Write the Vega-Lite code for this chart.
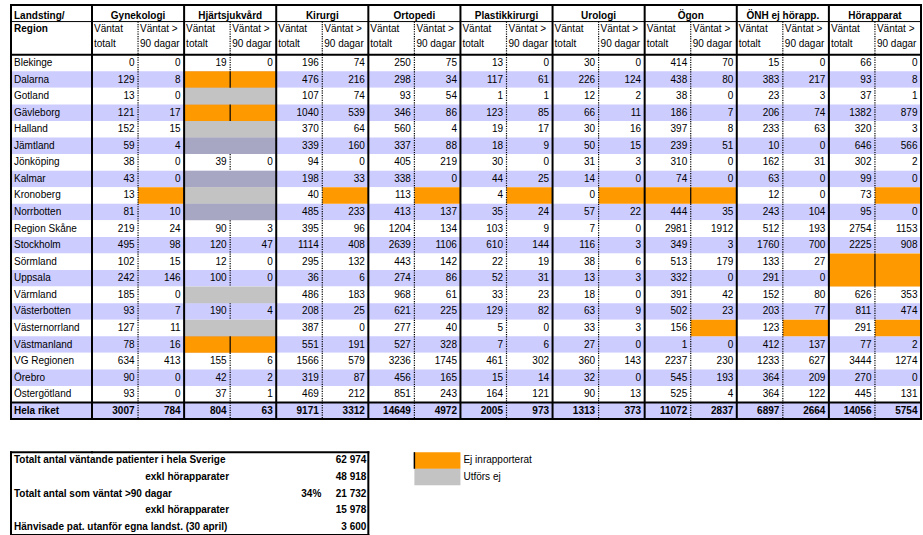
{
  "$schema": "https://vega.github.io/schema/vega-lite/v6.json",
  "background": "white",
  "padding": {"left": 9, "top": 3, "right": 2, "bottom": 0},
  "bounds": "flush",
  "spacing": 0,
  "config": {
    "view": {"stroke": null},
    "text": {"font": "Liberation Sans", "fontSize": 10, "color": "#000000"},
    "locale": {"number": {"decimal": ",", "thousands": " ", "grouping": [3], "currency": ["", " kr"]}}
  },
  "datasets": {
    "vantande": [
      {"region":"Blekinge","specialitet":"Gynekologi","totalt":0,"over90":0},{"region":"Blekinge","specialitet":"Hjärtsjukvård","totalt":19,"over90":0},{"region":"Blekinge","specialitet":"Kirurgi","totalt":196,"over90":74},{"region":"Blekinge","specialitet":"Ortopedi","totalt":250,"over90":75},{"region":"Blekinge","specialitet":"Plastikkirurgi","totalt":13,"over90":0},{"region":"Blekinge","specialitet":"Urologi","totalt":30,"over90":0},{"region":"Blekinge","specialitet":"Ögon","totalt":414,"over90":70},{"region":"Blekinge","specialitet":"ÖNH ej hörapp.","totalt":15,"over90":0},{"region":"Blekinge","specialitet":"Hörapparat","totalt":66,"over90":0},
      {"region":"Dalarna","specialitet":"Gynekologi","totalt":129,"over90":8},{"region":"Dalarna","specialitet":"Hjärtsjukvård","totalt":null,"over90":null},{"region":"Dalarna","specialitet":"Kirurgi","totalt":476,"over90":216},{"region":"Dalarna","specialitet":"Ortopedi","totalt":298,"over90":34},{"region":"Dalarna","specialitet":"Plastikkirurgi","totalt":117,"over90":61},{"region":"Dalarna","specialitet":"Urologi","totalt":226,"over90":124},{"region":"Dalarna","specialitet":"Ögon","totalt":438,"over90":80},{"region":"Dalarna","specialitet":"ÖNH ej hörapp.","totalt":383,"over90":217},{"region":"Dalarna","specialitet":"Hörapparat","totalt":93,"over90":8},
      {"region":"Gotland","specialitet":"Gynekologi","totalt":13,"over90":0},{"region":"Gotland","specialitet":"Hjärtsjukvård","totalt":null,"over90":null},{"region":"Gotland","specialitet":"Kirurgi","totalt":107,"over90":74},{"region":"Gotland","specialitet":"Ortopedi","totalt":93,"over90":54},{"region":"Gotland","specialitet":"Plastikkirurgi","totalt":1,"over90":1},{"region":"Gotland","specialitet":"Urologi","totalt":12,"over90":2},{"region":"Gotland","specialitet":"Ögon","totalt":38,"over90":0},{"region":"Gotland","specialitet":"ÖNH ej hörapp.","totalt":23,"over90":3},{"region":"Gotland","specialitet":"Hörapparat","totalt":37,"over90":1},
      {"region":"Gävleborg","specialitet":"Gynekologi","totalt":121,"over90":17},{"region":"Gävleborg","specialitet":"Hjärtsjukvård","totalt":null,"over90":null},{"region":"Gävleborg","specialitet":"Kirurgi","totalt":1040,"over90":539},{"region":"Gävleborg","specialitet":"Ortopedi","totalt":346,"over90":86},{"region":"Gävleborg","specialitet":"Plastikkirurgi","totalt":123,"over90":85},{"region":"Gävleborg","specialitet":"Urologi","totalt":66,"over90":11},{"region":"Gävleborg","specialitet":"Ögon","totalt":186,"over90":7},{"region":"Gävleborg","specialitet":"ÖNH ej hörapp.","totalt":206,"over90":74},{"region":"Gävleborg","specialitet":"Hörapparat","totalt":1382,"over90":879},
      {"region":"Halland","specialitet":"Gynekologi","totalt":152,"over90":15},{"region":"Halland","specialitet":"Hjärtsjukvård","totalt":null,"over90":null},{"region":"Halland","specialitet":"Kirurgi","totalt":370,"over90":64},{"region":"Halland","specialitet":"Ortopedi","totalt":560,"over90":4},{"region":"Halland","specialitet":"Plastikkirurgi","totalt":19,"over90":17},{"region":"Halland","specialitet":"Urologi","totalt":30,"over90":16},{"region":"Halland","specialitet":"Ögon","totalt":397,"over90":8},{"region":"Halland","specialitet":"ÖNH ej hörapp.","totalt":233,"over90":63},{"region":"Halland","specialitet":"Hörapparat","totalt":320,"over90":3},
      {"region":"Jämtland","specialitet":"Gynekologi","totalt":59,"over90":4},{"region":"Jämtland","specialitet":"Hjärtsjukvård","totalt":null,"over90":null},{"region":"Jämtland","specialitet":"Kirurgi","totalt":339,"over90":160},{"region":"Jämtland","specialitet":"Ortopedi","totalt":337,"over90":88},{"region":"Jämtland","specialitet":"Plastikkirurgi","totalt":18,"over90":9},{"region":"Jämtland","specialitet":"Urologi","totalt":50,"over90":15},{"region":"Jämtland","specialitet":"Ögon","totalt":239,"over90":51},{"region":"Jämtland","specialitet":"ÖNH ej hörapp.","totalt":10,"over90":0},{"region":"Jämtland","specialitet":"Hörapparat","totalt":646,"over90":566},
      {"region":"Jönköping","specialitet":"Gynekologi","totalt":38,"over90":0},{"region":"Jönköping","specialitet":"Hjärtsjukvård","totalt":39,"over90":0},{"region":"Jönköping","specialitet":"Kirurgi","totalt":94,"over90":0},{"region":"Jönköping","specialitet":"Ortopedi","totalt":405,"over90":219},{"region":"Jönköping","specialitet":"Plastikkirurgi","totalt":30,"over90":0},{"region":"Jönköping","specialitet":"Urologi","totalt":31,"over90":3},{"region":"Jönköping","specialitet":"Ögon","totalt":310,"over90":0},{"region":"Jönköping","specialitet":"ÖNH ej hörapp.","totalt":162,"over90":31},{"region":"Jönköping","specialitet":"Hörapparat","totalt":302,"over90":2},
      {"region":"Kalmar","specialitet":"Gynekologi","totalt":43,"over90":0},{"region":"Kalmar","specialitet":"Hjärtsjukvård","totalt":null,"over90":null},{"region":"Kalmar","specialitet":"Kirurgi","totalt":198,"over90":33},{"region":"Kalmar","specialitet":"Ortopedi","totalt":338,"over90":0},{"region":"Kalmar","specialitet":"Plastikkirurgi","totalt":44,"over90":25},{"region":"Kalmar","specialitet":"Urologi","totalt":14,"over90":0},{"region":"Kalmar","specialitet":"Ögon","totalt":74,"over90":0},{"region":"Kalmar","specialitet":"ÖNH ej hörapp.","totalt":63,"over90":0},{"region":"Kalmar","specialitet":"Hörapparat","totalt":99,"over90":0},
      {"region":"Kronoberg","specialitet":"Gynekologi","totalt":13,"over90":null},{"region":"Kronoberg","specialitet":"Hjärtsjukvård","totalt":null,"over90":null},{"region":"Kronoberg","specialitet":"Kirurgi","totalt":40,"over90":null},{"region":"Kronoberg","specialitet":"Ortopedi","totalt":113,"over90":null},{"region":"Kronoberg","specialitet":"Plastikkirurgi","totalt":4,"over90":null},{"region":"Kronoberg","specialitet":"Urologi","totalt":0,"over90":null},{"region":"Kronoberg","specialitet":"Ögon","totalt":null,"over90":null},{"region":"Kronoberg","specialitet":"ÖNH ej hörapp.","totalt":12,"over90":0},{"region":"Kronoberg","specialitet":"Hörapparat","totalt":73,"over90":null},
      {"region":"Norrbotten","specialitet":"Gynekologi","totalt":81,"over90":10},{"region":"Norrbotten","specialitet":"Hjärtsjukvård","totalt":null,"over90":null},{"region":"Norrbotten","specialitet":"Kirurgi","totalt":485,"over90":233},{"region":"Norrbotten","specialitet":"Ortopedi","totalt":413,"over90":137},{"region":"Norrbotten","specialitet":"Plastikkirurgi","totalt":35,"over90":24},{"region":"Norrbotten","specialitet":"Urologi","totalt":57,"over90":22},{"region":"Norrbotten","specialitet":"Ögon","totalt":444,"over90":35},{"region":"Norrbotten","specialitet":"ÖNH ej hörapp.","totalt":243,"over90":104},{"region":"Norrbotten","specialitet":"Hörapparat","totalt":95,"over90":0},
      {"region":"Region Skåne","specialitet":"Gynekologi","totalt":219,"over90":24},{"region":"Region Skåne","specialitet":"Hjärtsjukvård","totalt":90,"over90":3},{"region":"Region Skåne","specialitet":"Kirurgi","totalt":395,"over90":96},{"region":"Region Skåne","specialitet":"Ortopedi","totalt":1204,"over90":134},{"region":"Region Skåne","specialitet":"Plastikkirurgi","totalt":103,"over90":9},{"region":"Region Skåne","specialitet":"Urologi","totalt":7,"over90":0},{"region":"Region Skåne","specialitet":"Ögon","totalt":2981,"over90":1912},{"region":"Region Skåne","specialitet":"ÖNH ej hörapp.","totalt":512,"over90":193},{"region":"Region Skåne","specialitet":"Hörapparat","totalt":2754,"over90":1153},
      {"region":"Stockholm","specialitet":"Gynekologi","totalt":495,"over90":98},{"region":"Stockholm","specialitet":"Hjärtsjukvård","totalt":120,"over90":47},{"region":"Stockholm","specialitet":"Kirurgi","totalt":1114,"over90":408},{"region":"Stockholm","specialitet":"Ortopedi","totalt":2639,"over90":1106},{"region":"Stockholm","specialitet":"Plastikkirurgi","totalt":610,"over90":144},{"region":"Stockholm","specialitet":"Urologi","totalt":116,"over90":3},{"region":"Stockholm","specialitet":"Ögon","totalt":349,"over90":3},{"region":"Stockholm","specialitet":"ÖNH ej hörapp.","totalt":1760,"over90":700},{"region":"Stockholm","specialitet":"Hörapparat","totalt":2225,"over90":908},
      {"region":"Sörmland","specialitet":"Gynekologi","totalt":102,"over90":15},{"region":"Sörmland","specialitet":"Hjärtsjukvård","totalt":12,"over90":0},{"region":"Sörmland","specialitet":"Kirurgi","totalt":295,"over90":132},{"region":"Sörmland","specialitet":"Ortopedi","totalt":443,"over90":142},{"region":"Sörmland","specialitet":"Plastikkirurgi","totalt":22,"over90":19},{"region":"Sörmland","specialitet":"Urologi","totalt":38,"over90":6},{"region":"Sörmland","specialitet":"Ögon","totalt":513,"over90":179},{"region":"Sörmland","specialitet":"ÖNH ej hörapp.","totalt":133,"over90":27},{"region":"Sörmland","specialitet":"Hörapparat","totalt":null,"over90":null},
      {"region":"Uppsala","specialitet":"Gynekologi","totalt":242,"over90":146},{"region":"Uppsala","specialitet":"Hjärtsjukvård","totalt":100,"over90":0},{"region":"Uppsala","specialitet":"Kirurgi","totalt":36,"over90":6},{"region":"Uppsala","specialitet":"Ortopedi","totalt":274,"over90":86},{"region":"Uppsala","specialitet":"Plastikkirurgi","totalt":52,"over90":31},{"region":"Uppsala","specialitet":"Urologi","totalt":13,"over90":3},{"region":"Uppsala","specialitet":"Ögon","totalt":332,"over90":0},{"region":"Uppsala","specialitet":"ÖNH ej hörapp.","totalt":291,"over90":0},{"region":"Uppsala","specialitet":"Hörapparat","totalt":null,"over90":null},
      {"region":"Värmland","specialitet":"Gynekologi","totalt":185,"over90":0},{"region":"Värmland","specialitet":"Hjärtsjukvård","totalt":null,"over90":null},{"region":"Värmland","specialitet":"Kirurgi","totalt":486,"over90":183},{"region":"Värmland","specialitet":"Ortopedi","totalt":968,"over90":61},{"region":"Värmland","specialitet":"Plastikkirurgi","totalt":33,"over90":23},{"region":"Värmland","specialitet":"Urologi","totalt":18,"over90":0},{"region":"Värmland","specialitet":"Ögon","totalt":391,"over90":42},{"region":"Värmland","specialitet":"ÖNH ej hörapp.","totalt":152,"over90":80},{"region":"Värmland","specialitet":"Hörapparat","totalt":626,"over90":353},
      {"region":"Västerbotten","specialitet":"Gynekologi","totalt":93,"over90":7},{"region":"Västerbotten","specialitet":"Hjärtsjukvård","totalt":190,"over90":4},{"region":"Västerbotten","specialitet":"Kirurgi","totalt":208,"over90":25},{"region":"Västerbotten","specialitet":"Ortopedi","totalt":621,"over90":225},{"region":"Västerbotten","specialitet":"Plastikkirurgi","totalt":129,"over90":82},{"region":"Västerbotten","specialitet":"Urologi","totalt":63,"over90":9},{"region":"Västerbotten","specialitet":"Ögon","totalt":502,"over90":23},{"region":"Västerbotten","specialitet":"ÖNH ej hörapp.","totalt":203,"over90":77},{"region":"Västerbotten","specialitet":"Hörapparat","totalt":811,"over90":474},
      {"region":"Västernorrland","specialitet":"Gynekologi","totalt":127,"over90":11},{"region":"Västernorrland","specialitet":"Hjärtsjukvård","totalt":null,"over90":null},{"region":"Västernorrland","specialitet":"Kirurgi","totalt":387,"over90":0},{"region":"Västernorrland","specialitet":"Ortopedi","totalt":277,"over90":40},{"region":"Västernorrland","specialitet":"Plastikkirurgi","totalt":5,"over90":0},{"region":"Västernorrland","specialitet":"Urologi","totalt":33,"over90":3},{"region":"Västernorrland","specialitet":"Ögon","totalt":156,"over90":null},{"region":"Västernorrland","specialitet":"ÖNH ej hörapp.","totalt":123,"over90":null},{"region":"Västernorrland","specialitet":"Hörapparat","totalt":291,"over90":null},
      {"region":"Västmanland","specialitet":"Gynekologi","totalt":78,"over90":16},{"region":"Västmanland","specialitet":"Hjärtsjukvård","totalt":null,"over90":null},{"region":"Västmanland","specialitet":"Kirurgi","totalt":551,"over90":191},{"region":"Västmanland","specialitet":"Ortopedi","totalt":527,"over90":328},{"region":"Västmanland","specialitet":"Plastikkirurgi","totalt":7,"over90":6},{"region":"Västmanland","specialitet":"Urologi","totalt":27,"over90":0},{"region":"Västmanland","specialitet":"Ögon","totalt":1,"over90":0},{"region":"Västmanland","specialitet":"ÖNH ej hörapp.","totalt":412,"over90":137},{"region":"Västmanland","specialitet":"Hörapparat","totalt":77,"over90":2},
      {"region":"VG Regionen","specialitet":"Gynekologi","totalt":634,"over90":413},{"region":"VG Regionen","specialitet":"Hjärtsjukvård","totalt":155,"over90":6},{"region":"VG Regionen","specialitet":"Kirurgi","totalt":1566,"over90":579},{"region":"VG Regionen","specialitet":"Ortopedi","totalt":3236,"over90":1745},{"region":"VG Regionen","specialitet":"Plastikkirurgi","totalt":461,"over90":302},{"region":"VG Regionen","specialitet":"Urologi","totalt":360,"over90":143},{"region":"VG Regionen","specialitet":"Ögon","totalt":2237,"over90":230},{"region":"VG Regionen","specialitet":"ÖNH ej hörapp.","totalt":1233,"over90":627},{"region":"VG Regionen","specialitet":"Hörapparat","totalt":3444,"over90":1274},
      {"region":"Örebro","specialitet":"Gynekologi","totalt":90,"over90":0},{"region":"Örebro","specialitet":"Hjärtsjukvård","totalt":42,"over90":2},{"region":"Örebro","specialitet":"Kirurgi","totalt":319,"over90":87},{"region":"Örebro","specialitet":"Ortopedi","totalt":456,"over90":165},{"region":"Örebro","specialitet":"Plastikkirurgi","totalt":15,"over90":14},{"region":"Örebro","specialitet":"Urologi","totalt":32,"over90":0},{"region":"Örebro","specialitet":"Ögon","totalt":545,"over90":193},{"region":"Örebro","specialitet":"ÖNH ej hörapp.","totalt":364,"over90":209},{"region":"Örebro","specialitet":"Hörapparat","totalt":270,"over90":0},
      {"region":"Östergötland","specialitet":"Gynekologi","totalt":93,"over90":0},{"region":"Östergötland","specialitet":"Hjärtsjukvård","totalt":37,"over90":1},{"region":"Östergötland","specialitet":"Kirurgi","totalt":469,"over90":212},{"region":"Östergötland","specialitet":"Ortopedi","totalt":851,"over90":243},{"region":"Östergötland","specialitet":"Plastikkirurgi","totalt":164,"over90":121},{"region":"Östergötland","specialitet":"Urologi","totalt":90,"over90":13},{"region":"Östergötland","specialitet":"Ögon","totalt":525,"over90":4},{"region":"Östergötland","specialitet":"ÖNH ej hörapp.","totalt":364,"over90":122},{"region":"Östergötland","specialitet":"Hörapparat","totalt":445,"over90":131},
      {"region":"Hela riket","specialitet":"Gynekologi","totalt":3007,"over90":784},{"region":"Hela riket","specialitet":"Hjärtsjukvård","totalt":804,"over90":63},{"region":"Hela riket","specialitet":"Kirurgi","totalt":9171,"over90":3312},{"region":"Hela riket","specialitet":"Ortopedi","totalt":14649,"over90":4972},{"region":"Hela riket","specialitet":"Plastikkirurgi","totalt":2005,"over90":973},{"region":"Hela riket","specialitet":"Urologi","totalt":1313,"over90":373},{"region":"Hela riket","specialitet":"Ögon","totalt":11072,"over90":2837},{"region":"Hela riket","specialitet":"ÖNH ej hörapp.","totalt":6897,"over90":2664},{"region":"Hela riket","specialitet":"Hörapparat","totalt":14056,"over90":5754}
    ],
    "status": [
      {"region":"Dalarna","specialitet":"Hjärtsjukvård","matt":"totalt","status":"Ej inrapporterat"},
      {"region":"Dalarna","specialitet":"Hjärtsjukvård","matt":"over90","status":"Ej inrapporterat"},
      {"region":"Gotland","specialitet":"Hjärtsjukvård","matt":"totalt","status":"Utförs ej"},
      {"region":"Gotland","specialitet":"Hjärtsjukvård","matt":"over90","status":"Utförs ej"},
      {"region":"Gävleborg","specialitet":"Hjärtsjukvård","matt":"totalt","status":"Ej inrapporterat"},
      {"region":"Gävleborg","specialitet":"Hjärtsjukvård","matt":"over90","status":"Ej inrapporterat"},
      {"region":"Halland","specialitet":"Hjärtsjukvård","matt":"totalt","status":"Utförs ej"},
      {"region":"Halland","specialitet":"Hjärtsjukvård","matt":"over90","status":"Utförs ej"},
      {"region":"Jämtland","specialitet":"Hjärtsjukvård","matt":"totalt","status":"Utförs ej"},
      {"region":"Jämtland","specialitet":"Hjärtsjukvård","matt":"over90","status":"Utförs ej"},
      {"region":"Kalmar","specialitet":"Hjärtsjukvård","matt":"totalt","status":"Utförs ej"},
      {"region":"Kalmar","specialitet":"Hjärtsjukvård","matt":"over90","status":"Utförs ej"},
      {"region":"Kronoberg","specialitet":"Gynekologi","matt":"over90","status":"Ej inrapporterat"},
      {"region":"Kronoberg","specialitet":"Hjärtsjukvård","matt":"totalt","status":"Utförs ej"},
      {"region":"Kronoberg","specialitet":"Hjärtsjukvård","matt":"over90","status":"Utförs ej"},
      {"region":"Kronoberg","specialitet":"Kirurgi","matt":"over90","status":"Ej inrapporterat"},
      {"region":"Kronoberg","specialitet":"Ortopedi","matt":"over90","status":"Ej inrapporterat"},
      {"region":"Kronoberg","specialitet":"Plastikkirurgi","matt":"over90","status":"Ej inrapporterat"},
      {"region":"Kronoberg","specialitet":"Urologi","matt":"over90","status":"Ej inrapporterat"},
      {"region":"Kronoberg","specialitet":"Ögon","matt":"totalt","status":"Ej inrapporterat"},
      {"region":"Kronoberg","specialitet":"Ögon","matt":"over90","status":"Ej inrapporterat"},
      {"region":"Kronoberg","specialitet":"Hörapparat","matt":"over90","status":"Ej inrapporterat"},
      {"region":"Norrbotten","specialitet":"Hjärtsjukvård","matt":"totalt","status":"Utförs ej"},
      {"region":"Norrbotten","specialitet":"Hjärtsjukvård","matt":"over90","status":"Utförs ej"},
      {"region":"Sörmland","specialitet":"Hörapparat","matt":"totalt","status":"Ej inrapporterat"},
      {"region":"Sörmland","specialitet":"Hörapparat","matt":"over90","status":"Ej inrapporterat"},
      {"region":"Uppsala","specialitet":"Hörapparat","matt":"totalt","status":"Ej inrapporterat"},
      {"region":"Uppsala","specialitet":"Hörapparat","matt":"over90","status":"Ej inrapporterat"},
      {"region":"Värmland","specialitet":"Hjärtsjukvård","matt":"totalt","status":"Utförs ej"},
      {"region":"Värmland","specialitet":"Hjärtsjukvård","matt":"over90","status":"Utförs ej"},
      {"region":"Västernorrland","specialitet":"Hjärtsjukvård","matt":"totalt","status":"Utförs ej"},
      {"region":"Västernorrland","specialitet":"Hjärtsjukvård","matt":"over90","status":"Utförs ej"},
      {"region":"Västernorrland","specialitet":"Ögon","matt":"over90","status":"Ej inrapporterat"},
      {"region":"Västernorrland","specialitet":"ÖNH ej hörapp.","matt":"over90","status":"Ej inrapporterat"},
      {"region":"Västernorrland","specialitet":"Hörapparat","matt":"over90","status":"Ej inrapporterat"},
      {"region":"Västmanland","specialitet":"Hjärtsjukvård","matt":"totalt","status":"Ej inrapporterat"},
      {"region":"Västmanland","specialitet":"Hjärtsjukvård","matt":"over90","status":"Ej inrapporterat"}
    ],
    "summering": [
      {"post":"Totalt","niva":1,"text":"Totalt antal väntande patienter i hela Sverige","antal":62974},
      {"post":"Totalt exkl. hörapparater","niva":2,"text":"exkl hörapparater","antal":48918},
      {"post":"Över 90 dagar","niva":1,"text":"Totalt antal som väntat >90 dagar","andel":0.34,"antal":21732},
      {"post":"Över 90 dagar exkl. hörapparater","niva":2,"text":"exkl hörapparater","antal":15978},
      {"post":"Hänvisade","niva":1,"text":"Hänvisade pat. utanför egna landst. (30 april)","antal":3600}
    ]
  },
  "hconcat": [
    {
      "width": 81,
      "height": 530,
      "layer": [
        {
          "data": {"name": "vantande"},
          "transform": [{"filter": "datum.specialitet === 'Gynekologi'"}, {"window": [{"op": "row_number", "as": "nr"}]}],
          "mark": {"type": "rect"},
          "encoding": {
            "x": {"datum": "Landsting", "type": "nominal", "scale": {"type": "band", "domain": ["Landsting"], "paddingInner": 0, "paddingOuter": 0}, "axis": null},
            "y": {"field": "region", "type": "nominal", "axis": null, "scale": {"type": "band", "paddingInner": 0, "paddingOuter": 0, "domain": ["rubrik1","rubrik2a","rubrik2b","Blekinge","Dalarna","Gotland","Gävleborg","Halland","Jämtland","Jönköping","Kalmar","Kronoberg","Norrbotten","Region Skåne","Stockholm","Sörmland","Uppsala","Värmland","Västerbotten","Västernorrland","Västmanland","VG Regionen","Örebro","Östergötland","Hela riket","mellanrum1","mellanrum2","Totalt","Totalt exkl. hörapparater","Över 90 dagar","Över 90 dagar exkl. hörapparater","Hänvisade"]}},
            "color": {"condition": {"test": "datum.nr % 2 === 0", "value": "#ccccff"}, "value": "#ffffff"}
          }
        },
        {
          "data": {"name": "vantande"},
          "transform": [{"filter": "datum.specialitet === 'Gynekologi'"}],
          "mark": {"type": "text", "align": "left", "baseline": "middle", "dx": 3, "fontWeight": {"expr": "datum.region === 'Hela riket' ? 'bold' : 'normal'"}},
          "encoding": {
            "x": {"datum": "Landsting", "type": "nominal", "bandPosition": 0},
            "y": {"field": "region", "type": "nominal"},
            "text": {"field": "region"}
          }
        },
        {
          "data": {"values": [{"text": "Landsting/"}]},
          "mark": {"type": "text", "align": "left", "baseline": "alphabetic", "dx": 3, "dy": 5.5, "fontWeight": "bold"},
          "encoding": {
            "x": {"datum": "Landsting", "type": "nominal", "bandPosition": 0},
            "y": {"datum": "rubrik1", "type": "nominal"},
            "text": {"field": "text"}
          }
        },
        {
          "data": {"values": [{"text": "Region"}]},
          "mark": {"type": "text", "align": "left", "baseline": "alphabetic", "dx": 3, "dy": 1.7, "fontWeight": "bold"},
          "encoding": {
            "x": {"datum": "Landsting", "type": "nominal", "bandPosition": 0},
            "y": {"datum": "rubrik2a", "type": "nominal"},
            "text": {"field": "text"}
          }
        },
        {
          "data": {"name": "summering"},
          "transform": [{"filter": "datum.niva === 1"}],
          "mark": {"type": "text", "align": "left", "baseline": "middle", "dx": 3, "fontWeight": "bold"},
          "encoding": {
            "x": {"datum": "Landsting", "type": "nominal", "bandPosition": 0},
            "y": {"field": "post", "type": "nominal"},
            "text": {"field": "text"}
          }
        },
        {
          "data": {"values": [{"grans": "rubrik1"}, {"grans": "Blekinge"}, {"grans": "Hela riket"}, {"grans": "Totalt"}]},
          "mark": {"type": "rule", "strokeWidth": 2, "strokeCap": "square", "color": "#000000"},
          "encoding": {
            "y": {"field": "grans", "type": "nominal", "bandPosition": 0},
            "x": {"datum": "Landsting", "type": "nominal", "bandPosition": 0},
            "x2": {"datum": "Landsting", "bandPosition": 1}
          }
        },
        {
          "data": {"values": [{"grans": "Hela riket"}, {"grans": "Hänvisade"}]},
          "mark": {"type": "rule", "strokeWidth": 2, "strokeCap": "square", "color": "#000000"},
          "encoding": {
            "y": {"field": "grans", "type": "nominal", "bandPosition": 1},
            "x": {"datum": "Landsting", "type": "nominal", "bandPosition": 0},
            "x2": {"datum": "Landsting", "bandPosition": 1}
          }
        },
        {
          "data": {"values": [{}]},
          "mark": {"type": "rule", "strokeWidth": 1, "color": "#000000"},
          "encoding": {
            "y": {"datum": "rubrik2a", "type": "nominal", "bandPosition": 0},
            "x": {"datum": "Landsting", "type": "nominal", "bandPosition": 0},
            "x2": {"datum": "Landsting", "bandPosition": 1}
          }
        },
        {
          "data": {"values": [{"fran": "rubrik1", "till": "Hela riket"}, {"fran": "Totalt", "till": "Hänvisade"}]},
          "mark": {"type": "rule", "strokeWidth": 2, "strokeCap": "square", "color": "#000000"},
          "encoding": {
            "x": {"datum": "Landsting", "type": "nominal", "bandPosition": 0},
            "y": {"field": "fran", "type": "nominal", "bandPosition": 0},
            "y2": {"field": "till", "bandPosition": 1}
          }
        }
      ]
    },
    {
      "width": 829,
      "height": 530,
      "layer": [
        {
          "data": {"name": "vantande"},
          "transform": [{"window": [{"op": "row_number", "as": "nr"}], "groupby": ["specialitet"]}],
          "mark": {"type": "rect"},
          "encoding": {
            "x": {"field": "specialitet", "type": "nominal", "axis": null, "scale": {"type": "band", "paddingInner": 0, "paddingOuter": 0, "domain": ["Gynekologi","Hjärtsjukvård","Kirurgi","Ortopedi","Plastikkirurgi","Urologi","Ögon","ÖNH ej hörapp.","Hörapparat"]}},
            "y": {"field": "region", "type": "nominal", "axis": null, "scale": {"type": "band", "paddingInner": 0, "paddingOuter": 0, "domain": ["rubrik1","rubrik2a","rubrik2b","Blekinge","Dalarna","Gotland","Gävleborg","Halland","Jämtland","Jönköping","Kalmar","Kronoberg","Norrbotten","Region Skåne","Stockholm","Sörmland","Uppsala","Värmland","Västerbotten","Västernorrland","Västmanland","VG Regionen","Örebro","Östergötland","Hela riket","mellanrum1","mellanrum2","Totalt","Totalt exkl. hörapparater","Över 90 dagar","Över 90 dagar exkl. hörapparater","Hänvisade"]}},
            "color": {"condition": {"test": "datum.nr % 2 === 0", "value": "#ccccff"}, "value": "#ffffff"}
          }
        },
        {
          "data": {"name": "status"},
          "transform": [{"filter": "datum.status === 'Ej inrapporterat'"}],
          "mark": {"type": "rect", "color": "#ff9900"},
          "encoding": {
            "x": {"field": "specialitet", "type": "nominal"},
            "xOffset": {"field": "matt", "type": "nominal", "scale": {"type": "band", "domain": ["totalt", "over90"], "paddingInner": 0, "paddingOuter": 0}},
            "y": {"field": "region", "type": "nominal"}
          }
        },
        {
          "data": {"name": "status"},
          "transform": [
            {"filter": "datum.status === 'Utförs ej'"},
            {"aggregate": [{"op": "count", "as": "antal_celler"}], "groupby": ["region", "specialitet"]}
          ],
          "mark": {"type": "rect", "color": "#7a7a7a", "opacity": 0.45},
          "encoding": {
            "x": {"field": "specialitet", "type": "nominal"},
            "y": {"field": "region", "type": "nominal"}
          }
        },
        {
          "data": {"name": "vantande"},
          "transform": [{"filter": "datum.region === 'Hela riket'"}],
          "mark": {"type": "rule", "strokeWidth": 1.2, "strokeDash": [1.2, 1.2], "color": "#000000"},
          "encoding": {
            "x": {"field": "specialitet", "type": "nominal", "bandPosition": 0.5},
            "y": {"datum": "rubrik2a", "type": "nominal", "bandPosition": 0},
            "y2": {"datum": "rubrik2b", "bandPosition": 1}
          }
        },
        {
          "data": {"name": "vantande"},
          "transform": [{"filter": "isValid(datum.totalt) || isValid(datum.over90)"}],
          "mark": {"type": "rule", "strokeWidth": 1.2, "strokeDash": [1.2, 1.2], "color": "#000000"},
          "encoding": {
            "x": {"field": "specialitet", "type": "nominal", "bandPosition": 0.5},
            "y": {"field": "region", "type": "nominal", "bandPosition": 0},
            "y2": {"field": "region", "bandPosition": 1}
          }
        },
        {
          "data": {"name": "status"},
          "transform": [
            {"filter": "datum.status === 'Ej inrapporterat'"},
            {"aggregate": [{"op": "count", "as": "antal_celler"}], "groupby": ["region", "specialitet"]},
            {"filter": "datum.antal_celler === 2"}
          ],
          "mark": {"type": "rule", "strokeWidth": 1.2, "color": "#000000"},
          "encoding": {
            "x": {"field": "specialitet", "type": "nominal", "bandPosition": 0.5},
            "y": {"field": "region", "type": "nominal", "bandPosition": 0},
            "y2": {"field": "region", "bandPosition": 1}
          }
        },
        {
          "data": {"name": "vantande"},
          "transform": [{"filter": "datum.region === 'Hela riket'"}],
          "mark": {"type": "rule", "strokeWidth": 2, "strokeCap": "square", "color": "#000000"},
          "encoding": {
            "x": {"field": "specialitet", "type": "nominal", "bandPosition": 0},
            "y": {"datum": "rubrik1", "type": "nominal", "bandPosition": 0},
            "y2": {"datum": "Hela riket", "bandPosition": 1}
          }
        },
        {
          "data": {"values": [{}]},
          "mark": {"type": "rule", "strokeWidth": 2, "strokeCap": "square", "color": "#000000"},
          "encoding": {
            "x": {"datum": "Hörapparat", "type": "nominal", "bandPosition": 1},
            "y": {"datum": "rubrik1", "type": "nominal", "bandPosition": 0},
            "y2": {"datum": "Hela riket", "bandPosition": 1}
          }
        },
        {
          "data": {"values": [{"grans": "rubrik1"}, {"grans": "Blekinge"}, {"grans": "Hela riket"}]},
          "mark": {"type": "rule", "strokeWidth": 2, "strokeCap": "square", "color": "#000000"},
          "encoding": {
            "y": {"field": "grans", "type": "nominal", "bandPosition": 0},
            "x": {"datum": "Gynekologi", "type": "nominal", "bandPosition": 0},
            "x2": {"datum": "Hörapparat", "bandPosition": 1}
          }
        },
        {
          "data": {"values": [{}]},
          "mark": {"type": "rule", "strokeWidth": 2, "strokeCap": "square", "color": "#000000"},
          "encoding": {
            "y": {"datum": "Hela riket", "type": "nominal", "bandPosition": 1},
            "x": {"datum": "Gynekologi", "type": "nominal", "bandPosition": 0},
            "x2": {"datum": "Hörapparat", "bandPosition": 1}
          }
        },
        {
          "data": {"values": [{}]},
          "mark": {"type": "rule", "strokeWidth": 1, "color": "#000000"},
          "encoding": {
            "y": {"datum": "rubrik2a", "type": "nominal", "bandPosition": 0},
            "x": {"datum": "Gynekologi", "type": "nominal", "bandPosition": 0},
            "x2": {"datum": "Hörapparat", "bandPosition": 1}
          }
        },
        {
          "data": {"name": "vantande"},
          "transform": [{"filter": "datum.region === 'Hela riket'"}],
          "mark": {"type": "text", "align": "center", "baseline": "alphabetic", "dy": 5.5, "fontWeight": "bold"},
          "encoding": {
            "x": {"field": "specialitet", "type": "nominal", "bandPosition": 0.5},
            "y": {"datum": "rubrik1", "type": "nominal"},
            "text": {"field": "specialitet"}
          }
        },
        {
          "data": {"name": "vantande"},
          "transform": [{"filter": "datum.region === 'Hela riket'"}],
          "mark": {"type": "text", "align": "left", "baseline": "alphabetic", "dx": 2, "dy": 1.7, "lineBreak": "\n", "lineHeight": 15, "text": "Väntat\ntotalt"},
          "encoding": {
            "x": {"field": "specialitet", "type": "nominal", "bandPosition": 0},
            "y": {"datum": "rubrik2a", "type": "nominal"}
          }
        },
        {
          "data": {"name": "vantande"},
          "transform": [{"filter": "datum.region === 'Hela riket'"}],
          "mark": {"type": "text", "align": "left", "baseline": "alphabetic", "dx": 2, "dy": 1.7, "lineBreak": "\n", "lineHeight": 15, "text": "Väntat >\n90 dagar"},
          "encoding": {
            "x": {"field": "specialitet", "type": "nominal", "bandPosition": 0.5},
            "y": {"datum": "rubrik2a", "type": "nominal"}
          }
        },
        {
          "data": {"name": "vantande"},
          "transform": [{"filter": "isValid(datum.totalt)"}],
          "mark": {"type": "text", "align": "right", "baseline": "middle", "dx": -3.5, "fontWeight": {"expr": "datum.region === 'Hela riket' ? 'bold' : 'normal'"}},
          "encoding": {
            "x": {"field": "specialitet", "type": "nominal", "bandPosition": 0.5},
            "y": {"field": "region", "type": "nominal"},
            "text": {"field": "totalt", "type": "quantitative", "format": "d"}
          }
        },
        {
          "data": {"name": "vantande"},
          "transform": [{"filter": "isValid(datum.over90)"}],
          "mark": {"type": "text", "align": "right", "baseline": "middle", "dx": -3.5, "fontWeight": {"expr": "datum.region === 'Hela riket' ? 'bold' : 'normal'"}},
          "encoding": {
            "x": {"field": "specialitet", "type": "nominal", "bandPosition": 1},
            "y": {"field": "region", "type": "nominal"},
            "text": {"field": "over90", "type": "quantitative", "format": "d"}
          }
        },
        {
          "data": {"name": "summering"},
          "transform": [{"filter": "datum.niva === 2"}],
          "mark": {"type": "text", "align": "center", "baseline": "middle", "dx": 3, "fontWeight": "bold"},
          "encoding": {
            "x": {"datum": "Gynekologi", "type": "nominal", "bandPosition": 1},
            "y": {"field": "post", "type": "nominal"},
            "text": {"field": "text"}
          }
        },
        {
          "data": {"name": "summering"},
          "mark": {"type": "text", "align": "right", "baseline": "middle", "dx": -2, "fontWeight": "bold"},
          "encoding": {
            "x": {"datum": "Kirurgi", "type": "nominal", "bandPosition": 1},
            "y": {"field": "post", "type": "nominal"},
            "text": {"field": "antal", "type": "quantitative", "format": ","}
          }
        },
        {
          "data": {"name": "summering"},
          "transform": [{"filter": "isValid(datum.andel)"}],
          "mark": {"type": "text", "align": "right", "baseline": "middle", "dx": -1, "fontWeight": "bold"},
          "encoding": {
            "x": {"datum": "Kirurgi", "type": "nominal", "bandPosition": 0.5},
            "y": {"field": "post", "type": "nominal"},
            "text": {"field": "andel", "type": "quantitative", "format": ".0%"}
          }
        },
        {
          "data": {"values": [{}]},
          "mark": {"type": "rule", "strokeWidth": 2, "strokeCap": "square", "color": "#000000"},
          "encoding": {
            "y": {"datum": "Totalt", "type": "nominal", "bandPosition": 0},
            "x": {"datum": "Gynekologi", "type": "nominal", "bandPosition": 0},
            "x2": {"datum": "Kirurgi", "bandPosition": 1}
          }
        },
        {
          "data": {"values": [{}]},
          "mark": {"type": "rule", "strokeWidth": 2, "strokeCap": "square", "color": "#000000"},
          "encoding": {
            "y": {"datum": "Hänvisade", "type": "nominal", "bandPosition": 1},
            "x": {"datum": "Gynekologi", "type": "nominal", "bandPosition": 0},
            "x2": {"datum": "Kirurgi", "bandPosition": 1}
          }
        },
        {
          "data": {"values": [{}]},
          "mark": {"type": "rule", "strokeWidth": 2, "strokeCap": "square", "color": "#000000"},
          "encoding": {
            "x": {"datum": "Kirurgi", "type": "nominal", "bandPosition": 1},
            "y": {"datum": "Totalt", "type": "nominal", "bandPosition": 0},
            "y2": {"datum": "Hänvisade", "bandPosition": 1}
          }
        },
        {
          "data": {"values": [{"status": "Ej inrapporterat"}]},
          "mark": {"type": "rect", "color": "#ff9900"},
          "encoding": {
            "x": {"datum": "Ortopedi", "type": "nominal"},
            "xOffset": {"datum": "over90", "type": "nominal"},
            "y": {"datum": "Totalt", "type": "nominal"}
          }
        },
        {
          "data": {"values": [{"status": "Utförs ej"}]},
          "mark": {"type": "rect", "color": "#7a7a7a", "opacity": 0.45},
          "encoding": {
            "x": {"datum": "Ortopedi", "type": "nominal"},
            "xOffset": {"datum": "over90", "type": "nominal"},
            "y": {"datum": "Totalt exkl. hörapparater", "type": "nominal"}
          }
        },
        {
          "data": {"values": [{}]},
          "mark": {"type": "rule", "strokeWidth": 1.5, "color": "#000000"},
          "encoding": {
            "x": {"datum": "Ortopedi", "type": "nominal", "bandPosition": 0.5},
            "y": {"datum": "Totalt", "type": "nominal", "bandPosition": 0},
            "y2": {"datum": "Totalt", "bandPosition": 1}
          }
        },
        {
          "data": {"values": [{"status": "Ej inrapporterat", "rad": "Totalt"}, {"status": "Utförs ej", "rad": "Totalt exkl. hörapparater"}]},
          "mark": {"type": "text", "align": "left", "baseline": "middle", "dx": 3},
          "encoding": {
            "x": {"datum": "Plastikkirurgi", "type": "nominal", "bandPosition": 0},
            "y": {"field": "rad", "type": "nominal"},
            "text": {"field": "status"}
          }
        }
      ]
    }
  ]
}
